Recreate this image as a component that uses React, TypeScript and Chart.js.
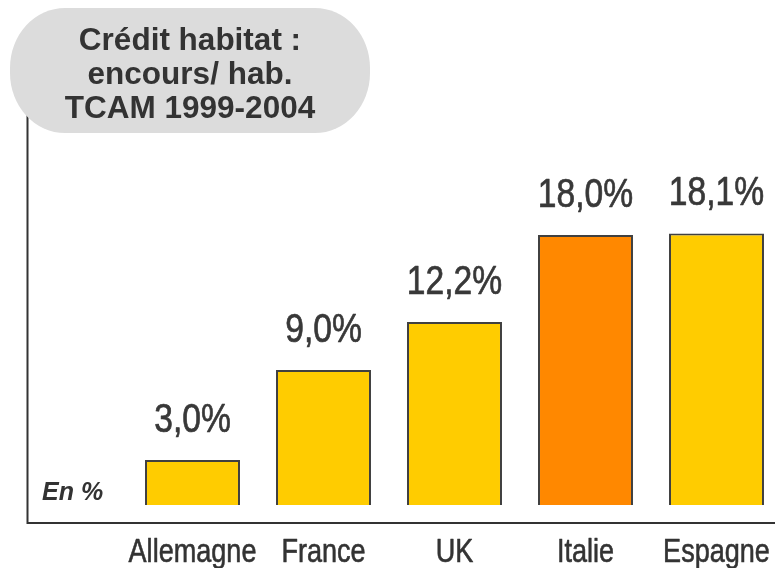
import React, { useEffect, useRef } from "react";
import { Chart, registerables } from "chart.js";

Chart.register(...registerables);

const categories = ["Allemagne", "France", "UK", "Italie", "Espagne"];
const values = [3.0, 9.0, 12.2, 18.0, 18.1];
const barColors = ["#FFCC00", "#FFCC00", "#FFCC00", "#FF8800", "#FFCC00"];
const titleLines = ["Crédit habitat :", "encours/ hab.", "TCAM 1999-2004"];
const unitLabel = "En %";

const SANS = "'Liberation Sans', Arial, sans-serif";
const TEXT = "#333333";
const NARROW_SCALE = 0.82;

const fmt = (v: number) => v.toFixed(1).replace(".", ",") + "%";

function narrowText(ctx: CanvasRenderingContext2D, text: string, x: number, y: number, weight: number) {
  ctx.save();
  ctx.translate(x, y);
  ctx.scale(NARROW_SCALE, 1);
  ctx.lineWidth = weight;
  ctx.lineJoin = "round";
  ctx.strokeText(text, 0, 0);
  ctx.fillText(text, 0, 0);
  ctx.restore();
}

const framePlugin = {
  id: "frame",
  beforeDraw(chart: any) {
    const { ctx, chartArea } = chart;
    ctx.save();
    ctx.strokeStyle = TEXT;
    ctx.lineWidth = 2;
    ctx.beginPath();
    ctx.moveTo(27.5, 60);
    ctx.lineTo(27.5, chartArea.bottom);
    ctx.lineTo(chart.width, chartArea.bottom);
    ctx.stroke();
    ctx.restore();
  },
};

const labelsPlugin = {
  id: "narrowLabels",
  afterDatasetsDraw(chart: any) {
    const { ctx, chartArea } = chart;
    const meta = chart.getDatasetMeta(0);
    const xScale = chart.scales.x;
    ctx.save();
    ctx.textAlign = "center";
    ctx.textBaseline = "alphabetic";
    // value labels above bars
    ctx.font = `41px ${SANS}`;
    ctx.fillStyle = "#383838";
    ctx.strokeStyle = "#383838";
    meta.data.forEach((bar: any, i: number) => {
      narrowText(ctx, fmt(values[i]), bar.x, bar.y - 28.5, 0.7);
    });
    // category labels under the axis
    ctx.font = `33px ${SANS}`;
    ctx.fillStyle = TEXT;
    ctx.strokeStyle = TEXT;
    categories.forEach((c, i) => {
      narrowText(ctx, c, xScale.getPixelForValue(i), chartArea.bottom + 39, 0.6);
    });
    ctx.restore();
  },
};

export default function App() {
  const canvasRef = useRef<HTMLCanvasElement | null>(null);

  useEffect(() => {
    const canvas = canvasRef.current;
    if (!canvas) return;
    const chart = new Chart(canvas, {
      type: "bar",
      data: {
        labels: categories,
        datasets: [
          {
            data: values,
            backgroundColor: barColors,
            borderColor: "#404040",
            borderWidth: 2,
            categoryPercentage: 1,
            barPercentage: 0.725,
          },
        ],
      },
      options: {
        responsive: false,
        animation: false,
        layout: { padding: { left: 127, right: 8, top: 0, bottom: 0 } },
        plugins: { legend: { display: false }, tooltip: { enabled: false } },
        scales: {
          x: {
            grid: { display: false, drawTicks: false },
            border: { display: false },
            ticks: { display: false },
            afterFit: (s: any) => {
              s.height = 45;
            },
          },
          y: { display: false, min: -1.2, max: 33.67 },
        },
      },
      plugins: [framePlugin, labelsPlugin],
    } as any);
    return () => chart.destroy();
  }, []);

  return (
    <div
      style={{
        position: "absolute",
        left: 0,
        top: 0,
        width: 775,
        height: 568,
        overflow: "hidden",
        background: "#ffffff",
      }}
    >
      <canvas ref={canvasRef} width={790} height={568} style={{ display: "block" }} />
      <div
        style={{
          position: "absolute",
          left: 10,
          top: 8,
          width: 360,
          height: 125,
          boxSizing: "border-box",
          paddingTop: 14,
          borderRadius: "55px / 60px",
          background: "#dcdcdc",
          color: TEXT,
          fontFamily: SANS,
          fontWeight: "bold",
          fontSize: 31.5,
          lineHeight: "34px",
          textAlign: "center",
        }}
      >
        {titleLines.map((l) => (
          <div key={l}>{l}</div>
        ))}
      </div>
      <div
        style={{
          position: "absolute",
          left: 42,
          top: 479,
          color: TEXT,
          fontFamily: SANS,
          fontWeight: "bold",
          fontStyle: "italic",
          fontSize: 25,
          lineHeight: "25px",
          whiteSpace: "nowrap",
        }}
      >
        {unitLabel}
      </div>
    </div>
  );
}
